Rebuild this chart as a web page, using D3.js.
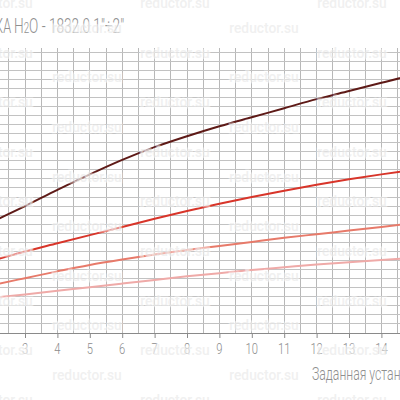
<!DOCTYPE html>
<html>
<head>
<meta charset="utf-8">
<script src="https://cdn.jsdelivr.net/npm/d3@7"></script>
<style>
  body { margin: 0; background: #fff; }
  svg { display: block; }
</style>
</head>
<body>
<script>
var width = 400, height = 400;

// set point values on the x axis
var xValues = [2, 3, 4, 5, 6, 7, 8, 9, 10, 11, 12, 13, 14, 15];
var xTicks = [3, 4, 5, 6, 7, 8, 9, 10, 11, 12, 13, 14];

// four curves
var curve1 = [1.23, 1.40, 1.58, 1.75, 1.91, 2.05, 2.17, 2.28, 2.38, 2.48, 2.58, 2.67, 2.76, 2.85];
var curve2 = [0.80, 0.90, 0.99, 1.08, 1.17, 1.26, 1.345, 1.425, 1.50, 1.57, 1.635, 1.695, 1.75, 1.80];
var curve3 = [0.53, 0.605, 0.68, 0.75, 0.81, 0.865, 0.915, 0.96, 1.005, 1.05, 1.09, 1.13, 1.17, 1.21];
var curve4 = [0.39, 0.425, 0.465, 0.505, 0.545, 0.585, 0.625, 0.66, 0.695, 0.725, 0.755, 0.78, 0.805, 0.83];

var curveColors = ["#5e1a17", "#d8352a", "#e77a6a", "#efaaa8"];

var svg = d3.select("body").append("svg")
    .attr("width", width).attr("height", height);

var x = d3.scaleLinear().domain([3, 14]).range([25, 381.4]);
var y = d3.scaleLinear().domain([0, 3.1]).range([333, 52]);

// grid
var vLines = d3.range(2.5, 14.51, 0.5);
var hLines = d3.range(1, 32).map(function(i){ return i / 10; });

svg.append("g").selectAll("line").data(vLines).enter().append("line")
    .attr("x1", function(d){ return x(d); }).attr("x2", function(d){ return x(d); })
    .attr("y1", y(3.1) - 4).attr("y2", y(0))
    .attr("stroke", "#b8b8b8").attr("stroke-width", 1)
    .attr("shape-rendering", "crispEdges");

svg.append("g").selectAll("line").data(hLines).enter().append("line")
    .attr("x1", 0).attr("x2", width)
    .attr("y1", function(d){ return y(d); }).attr("y2", function(d){ return y(d); })
    .attr("stroke", "#c2c2c2").attr("stroke-width", 1)
    .attr("shape-rendering", "crispEdges");

// x axis
var xAxis = svg.append("g").attr("transform", "translate(0," + y(0) + ")")
    .call(d3.axisBottom(x).tickValues(xTicks).tickSize(5).tickFormat(""));
xAxis.select(".domain").attr("d", "M0,0.5H" + width).attr("stroke", "#8a8a8a");
xAxis.selectAll(".tick line").attr("stroke", "#8a8a8a");

svg.append("g").selectAll("text").data(xTicks).enter().append("text")
    .attr("transform", function(d){ return "translate(" + x(d) + ",354) scale(0.8,1)"; })
    .attr("text-anchor", "middle")
    .attr("font-family", "Roboto").attr("font-weight", 300)
    .attr("font-size", 14).attr("fill", "#8c8c8c")
    .text(function(d){ return d; });

// curves
var series = [curve1, curve2, curve3, curve4];
var line = d3.line()
    .x(function(d, i){ return x(xValues[i]); })
    .y(function(d){ return y(d); })
    .curve(d3.curveMonotoneX);

svg.append("g").selectAll("path").data(series).enter().append("path")
    .attr("d", line)
    .attr("fill", "none")
    .attr("stroke", function(d, i){ return curveColors[i]; })
    .attr("stroke-width", 2);

// titles (cut at the left edge like the original)
svg.append("text")
    .attr("transform", "translate(11,33) scale(0.6,1)")
    .attr("text-anchor", "end")
    .attr("font-family", "Roboto").attr("font-weight", 300)
    .attr("font-size", 21).attr("fill", "#8f8f8f")
    .text("ГИДРАВЛИЧЕСКАЯ ХАРАКТЕРИСТИКА");

var title = svg.append("text")
    .attr("transform", "translate(14,33) scale(0.65,1)")
    .attr("font-family", "Roboto").attr("font-weight", 300)
    .attr("font-size", 21).attr("fill", "#8f8f8f");
title.append("tspan").text("H");
title.append("tspan").attr("font-size", 15).text("2");
title.append("tspan").text("O - 1832.0 1\"÷2\"");

svg.append("text")
    .attr("transform", "translate(312,380) scale(0.68,1)")
    .attr("font-family", "Roboto").attr("font-weight", 300)
    .attr("font-size", 18).attr("fill", "#8f8f8f")
    .text("Заданная установка, бар");

// watermark
var marks = [];
d3.range(0, 17).forEach(function(r){
    var xs = r % 2 === 0 ? [-2, 175, 352] : [87, 264, 441];
    xs.forEach(function(cx){ marks.push([cx, 3 + r * 24.8]); });
});

svg.append("g").selectAll("text").data(marks).enter().append("text")
    .attr("transform", function(d){ return "translate(" + d[0] + "," + (d[1] + 5) + ") scale(0.92,1)"; })
    .attr("text-anchor", "middle")
    .attr("font-family", "Roboto").attr("font-weight", 500)
    .attr("font-size", 15)
    .attr("fill", "#e6e6e6").attr("fill-opacity", 0.6)
    .attr("stroke", "#fff").attr("stroke-opacity", 0.45).attr("stroke-width", 3)
    .attr("paint-order", "stroke")
    .text("reductor.su");
</script>
</body>
</html>
